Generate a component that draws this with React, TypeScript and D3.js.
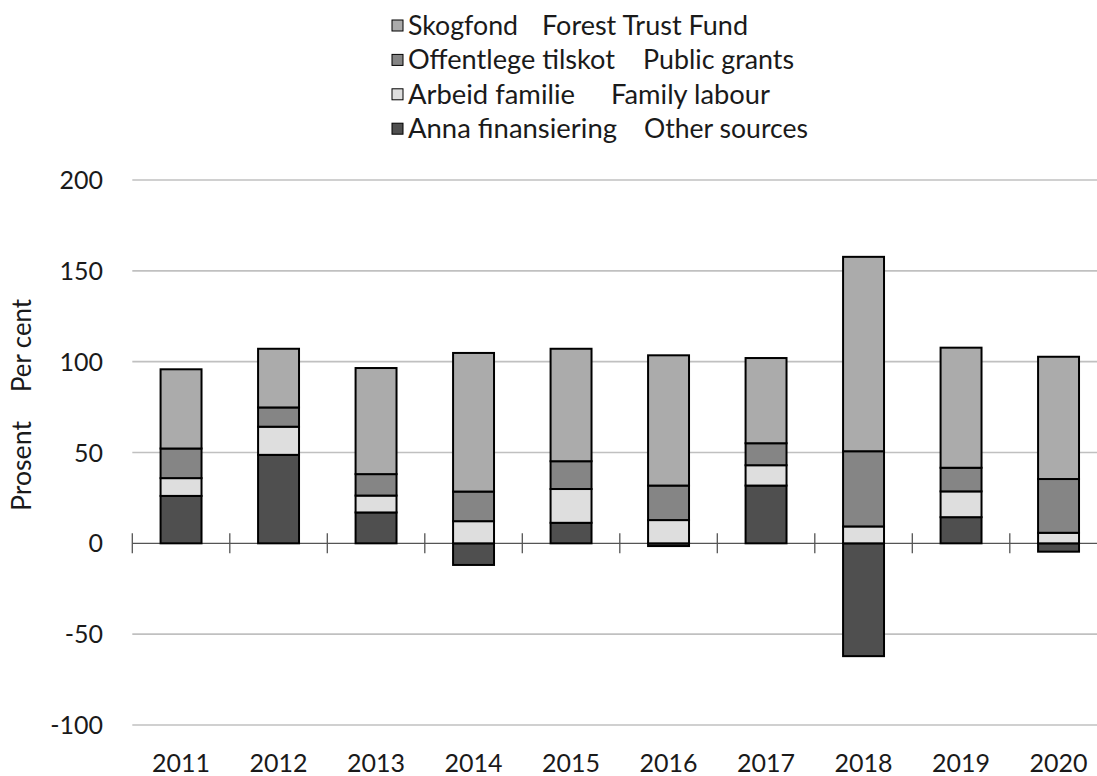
import React from "react";
import * as d3 from "d3";

const years = ["2011", "2012", "2013", "2014", "2015", "2016", "2017", "2018", "2019", "2020"];
const skogfond = [43.6, 32.3, 58.4, 76.3, 61.9, 71.7, 46.9, 107.0, 66.1, 67.3];
const grants = [16.3, 10.6, 11.8, 16.3, 15.3, 19.0, 12.1, 41.4, 13.0, 29.6];
const family = [9.8, 15.5, 9.3, 12.2, 18.6, 12.8, 11.2, 9.3, 14.2, 5.8];
const other = [26.1, 48.7, 17.0, -11.9, 11.3, -1.5, 31.8, -62.1, 14.4, -4.6];
const yTicks = [-100, -50, 0, 50, 100, 150, 200];

const seriesKeys = ["other", "family", "grants", "skog"];
const seriesColors: Record<string, string> = {
  skog: "#ababab",
  grants: "#858585",
  family: "#dedede",
  other: "#4f4f4f",
};
const legendNo = ["Skogfond", "Offentlege tilskot", "Arbeid familie", "Anna finansiering"];
const legendEn = ["Forest Trust Fund", "Public grants", "Family labour", "Other sources"];
const legendKeys = ["skog", "grants", "family", "other"];
const legendNoW = [110, 207, 167, 209];
const legendEnX = [542, 643, 611, 644];
const legendEnW = [206, 151, 159, 164];

const W = 1097;
const H = 776;
const FONT = "Lato, 'Open Sans', sans-serif";

export default function App() {
  const rows = years.map((y, i) => ({
    year: y,
    skog: skogfond[i],
    grants: grants[i],
    family: family[i],
    other: other[i],
  }));
  const stacked = d3.stack<any>().keys(seriesKeys).offset(d3.stackOffsetDiverging)(rows);

  const x = d3.scaleBand().domain(years).range([132.3, 1107.3]).paddingInner(0.58).paddingOuter(0.29);
  const bandStep = x.step();
  const y = d3.scaleLinear().domain([-100, 200]).range([725, 180]);

  return (
    <svg width={W} height={H} style={{ display: "block", position: "absolute", left: 0, top: 0 }} fontFamily={FONT}>
      <rect x={0} y={0} width={W} height={H} fill="#fff" />
      {yTicks.filter((t) => t !== 0).map((t) => (
        <line key={t} x1={132.3} x2={1107.3} y1={y(t)} y2={y(t)} stroke="#c0c0c0" strokeWidth={1.6} />
      ))}
      {yTicks.map((t) => (
        <text key={t} x={103} y={y(t)} dy="0.36em" textAnchor="end" fontSize={25} fill="#1a1a1a">
          {t}
        </text>
      ))}
      <text transform={`translate(31,511) rotate(-90)`} fontSize={26} fill="#1a1a1a" textLength={90} lengthAdjust="spacingAndGlyphs">
        Prosent
      </text>
      <text transform={`translate(31,392) rotate(-90)`} fontSize={26} fill="#1a1a1a" textLength={93} lengthAdjust="spacingAndGlyphs">
        Per cent
      </text>
      <line x1={132.3} x2={1107.3} y1={y(0)} y2={y(0)} stroke="#555" strokeWidth={1.2} />
      {years.map((yr, i) => {
        const bx = 132.3 + i * bandStep;
        return <line key={yr} x1={bx} x2={bx} y1={y(0) - 10} y2={y(0) + 10} stroke="#555" strokeWidth={1.3} />;
      })}
      {stacked.map((s) => (
        <g key={s.key}>
          {s.map((d, i) => {
            const y0 = y(d[0]);
            const y1 = y(d[1]);
            return (
              <rect
                key={i}
                x={x(years[i])}
                width={x.bandwidth()}
                y={Math.min(y0, y1)}
                height={Math.abs(y0 - y1)}
                fill={seriesColors[s.key]}
                stroke="#000"
                strokeWidth={2}
              />
            );
          })}
        </g>
      ))}
      {years.map((yr) => (
        <text key={yr} x={(x(yr) as number) + x.bandwidth() / 2} y={772} textAnchor="middle" fontSize={25} fill="#1a1a1a">
          {yr}
        </text>
      ))}
      {legendKeys.map((k, i) => {
        const base = 35 + i * 34.4;
        return (
          <g key={k}>
            <rect x={392} y={base - 15} width={11} height={11} fill={seriesColors[k]} stroke="#000" strokeWidth={1} />
            <text x={408} y={base} fontSize={26} fill="#1a1a1a" textLength={legendNoW[i]} lengthAdjust="spacingAndGlyphs">
              {legendNo[i]}
            </text>
            <text x={legendEnX[i]} y={base} fontSize={26} fill="#1a1a1a" textLength={legendEnW[i]} lengthAdjust="spacingAndGlyphs">
              {legendEn[i]}
            </text>
          </g>
        );
      })}
    </svg>
  );
}
